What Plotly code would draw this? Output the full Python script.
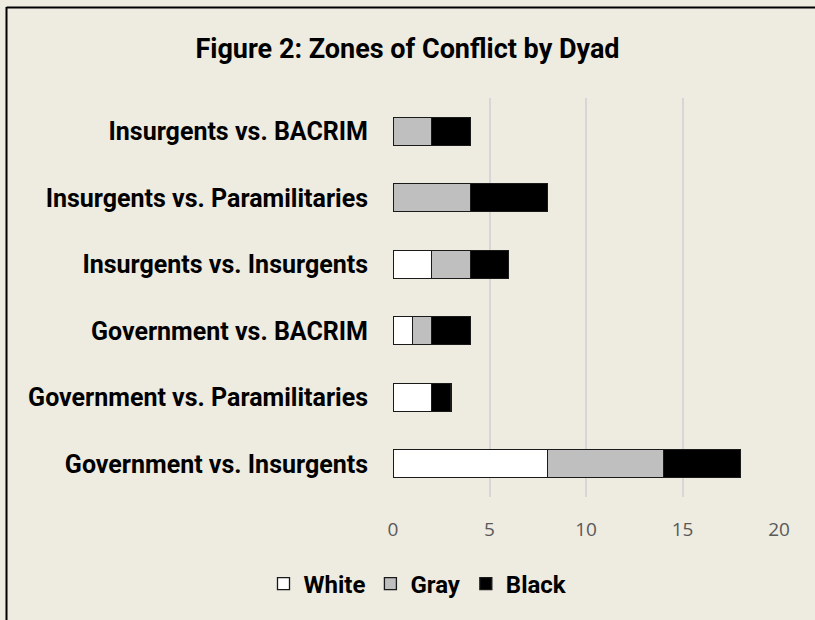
import plotly.graph_objects as go

categories = ["Government vs. Insurgents", "Government vs. Paramilitaries", "Government vs. BACRIM",
              "Insurgents vs. Insurgents", "Insurgents vs. Paramilitaries", "Insurgents vs. BACRIM"]
white = [8, 2, 1, 2, 0, 0]
gray = [6, 0, 1, 2, 4, 2]
black = [4, 1, 2, 2, 4, 2]
series_names = ["White", "Gray", "Black"]
series_colors = ["#FFFFFF", "#BFBFBF", "#000000"]
tick_vals = [0, 5, 10, 15, 20]

W, H = 815, 620
L, R, T, B = 393, 36, 98, 123
pw, ph = W - L - R, H - T - B

fig = go.Figure()
for name, vals, col in zip(series_names, [white, gray, black], series_colors):
    fig.add_trace(go.Bar(
        y=categories, x=vals, name=name, orientation="h",
        marker=dict(color=col, line=dict(color="#1a1a1a", width=1.3)),
    ))

def px_x(p):
    return (p - L) / pw

def px_y(p):
    return (H - B - p) / ph

bg = "#EEEBE0"
fig.update_layout(
    width=W, height=H,
    margin=dict(l=L, r=R, t=T, b=B),
    barmode="stack", bargap=0.58,
    paper_bgcolor=bg, plot_bgcolor=bg,
    title=dict(text="<b>Figure 2: Zones of Conflict by Dyad</b>", x=0.5, xanchor="center",
               y=1 - 49 / H, yanchor="middle", yref="container",
               font=dict(family="Roboto", size=27, color="#000000")),
    xaxis=dict(range=[0, 20], tickvals=tick_vals, showgrid=True, gridcolor="#D6D6D6", gridwidth=1.5,
               zeroline=False, showline=False, ticks="", ticklabelstandoff=19,
               tickfont=dict(family="Open Sans", size=19, color="#595959")),
    yaxis=dict(showgrid=False, zeroline=False, showline=False, ticks="", ticklabelstandoff=24,
               tickfont=dict(family="Roboto", size=25, color="#000000", weight="bold")),
    legend=dict(orientation="h", x=px_x(418), xanchor="center", y=px_y(584), yanchor="middle",
                traceorder="normal", itemwidth=30,
                font=dict(family="Roboto", size=24, color="#000000", weight="bold"),
                bgcolor="rgba(0,0,0,0)"),
    showlegend=True,
)

fig.add_shape(type="line", xref="paper", yref="paper", x0=px_x(6.5), x1=px_x(815), y0=px_y(7.5), y1=px_y(7.5),
              line=dict(color="#000000", width=2))
fig.add_shape(type="line", xref="paper", yref="paper", x0=px_x(6.5), x1=px_x(6.5), y0=px_y(7), y1=px_y(620),
              line=dict(color="#000000", width=2))

fig.write_html("out.html", config={"displayModeBar": False},
               post_script="document.body.style.margin='0';document.body.style.overflow='hidden';")
